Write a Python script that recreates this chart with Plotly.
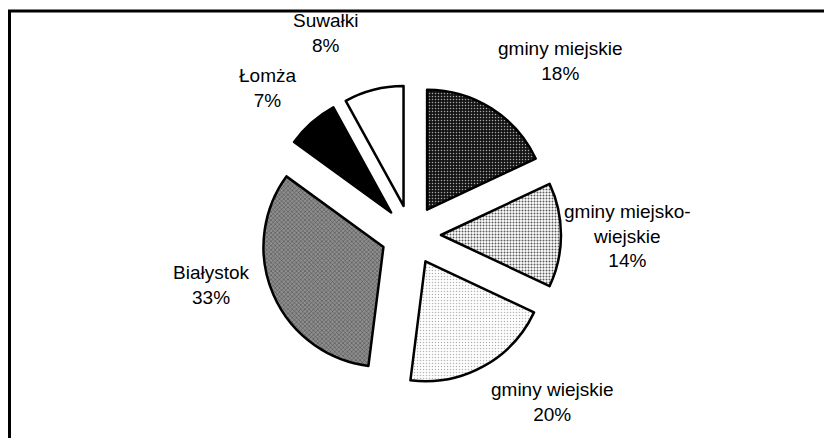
import plotly.graph_objects as go

# ---- data ----
categories = ["gminy miejskie", "gminy miejsko-wiejskie", "gminy wiejskie",
              "Białystok", "Łomża", "Suwałki"]
shares = [18, 14, 20, 33, 7, 8]
label_text = ["gminy miejskie", "gminy miejsko-<br>wiejskie", "gminy wiejskie",
              "Białystok", "Łomża", "Suwałki"]

# ---- styles ----
W, H = 832, 438
OFF = 8  # page body margin in the browser
bg_colors = ["#141414", "#ffffff", "#ffffff", "#8e8e8e", "#000000", "#ffffff"]
fg_colors = ["#a8a8a8", "#5a5a5a", "#b4b4b4", "#444444", "#000000", "#ffffff"]
shapes_p = [".", ".", ".", "x", "", ""]
sizes_p = [3, 3, 3, 3, 3, 3]
solid_p = [0.2, 0.35, 0.2, 0.3, 0.3, 0.3]

# label block centres in screen pixels (layout only)
label_pos = [(560, 61), (627, 236), (552, 402), (211, 285), (267, 88), (325, 33)]


def px_x(x):
    return (x - OFF) / W


def px_y(y):
    return 1 - (y - OFF) / H


fig = go.Figure(go.Pie(
    labels=categories,
    values=shares,
    sort=False,
    direction="clockwise",
    rotation=0,
    pull=[0.25] * len(shares),
    textinfo="none",
    hoverinfo="label+percent",
    marker=dict(
        colors=bg_colors,
        line=dict(color="black", width=2.5),
        pattern=dict(shape=shapes_p, fgcolor=fg_colors, bgcolor=bg_colors,
                     size=sizes_p, solidity=solid_p, fillmode="replace"),
    ),
    domain=dict(x=[px_x(261), px_x(561)], y=[px_y(385), px_y(85)]),
    showlegend=False,
))

total = sum(shares)
for txt, v, (px, py) in zip(label_text, shares, label_pos):
    fig.add_annotation(
        x=px_x(px), y=px_y(py), xref="paper", yref="paper",
        text=f"{txt}<br>{round(100 * v / total)}%",
        showarrow=False, xanchor="center", yanchor="middle",
        font=dict(family="Liberation Sans, Arial, sans-serif", size=19, color="black"),
        align="center",
    )

# frame (top & left visible, right/bottom run off the picture)
fig.add_shape(type="rect", xref="paper", yref="paper",
              x0=px_x(9.5), x1=1.05, y0=-0.05, y1=px_y(11),
              line=dict(color="black", width=3), fillcolor="rgba(0,0,0,0)")

fig.update_layout(
    width=W, height=H,
    margin=dict(l=0, r=0, t=0, b=0),
    paper_bgcolor="white", plot_bgcolor="white",
)

fig.write_html("out.html")
